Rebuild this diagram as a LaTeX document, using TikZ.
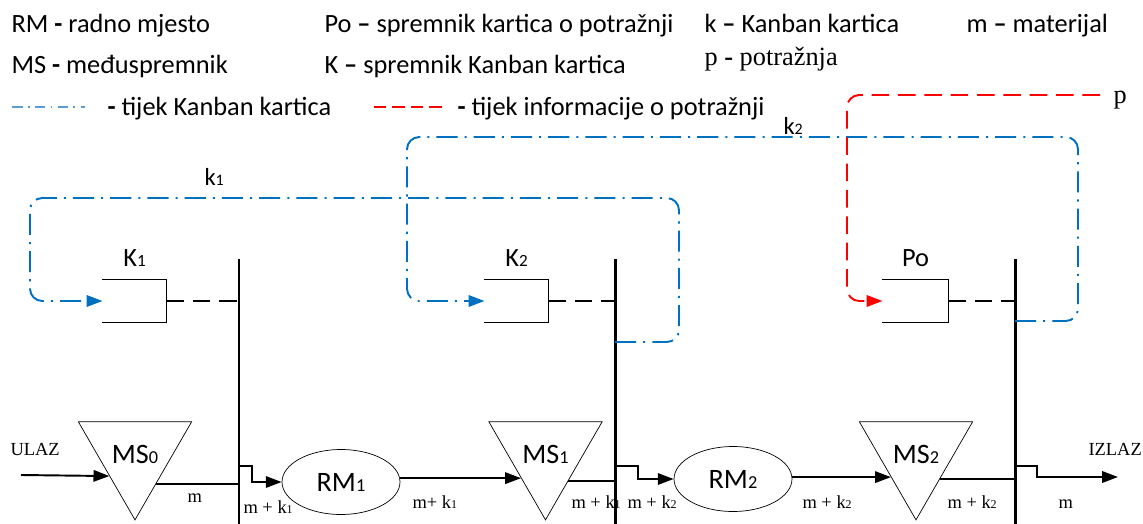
\documentclass[tikz,border=0pt]{standalone}
\usepackage{fontspec}
\setmainfont{Carlito}
\newfontfamily\timesfont{Liberation Serif}
\usepackage{graphicx}
\usepackage{tikz}
\usetikzlibrary{arrows.meta}
\usetikzlibrary{shapes.geometric}
\usetikzlibrary{positioning}
\definecolor{kanbanblue}{RGB}{0,112,192}
\definecolor{legendblue}{RGB}{91,155,213}
\definecolor{demandred}{RGB}{255,0,0}
\newcommand{\idx}[1]{\scalebox{0.65}{#1}}

\begin{document}
\begin{tikzpicture}[x=0.02cm, y=-0.02cm, >={Triangle[length=9pt,width=6.5pt]}, semithick]
            \tikzstyle{every node}=[inner sep=0pt]
            \tikzstyle{legend}=[anchor=base west, font=\fontsize{15}{17}\selectfont]
            \tikzstyle{flowlbl}=[anchor=base west, font=\timesfont\fontsize{10.5}{12}\selectfont]
            \tikzstyle{boxlbl}=[font=\fontsize{15}{17}\selectfont]
            \tikzstyle{buffer}=[draw, thin, regular polygon, regular polygon sides=3, shape border rotate=180, minimum size=2.54cm, font=\fontsize{16}{18}\selectfont]
            \tikzstyle{station}=[draw, thin, ellipse, minimum width=2.36cm, minimum height=1.3cm, font=\fontsize{16}{18}\selectfont]
            \tikzstyle{cardbox}=[minimum width=1.26cm, minimum height=0.84cm]
            \tikzstyle{flow}=[line width=1.1pt]
            \tikzstyle{barrier}=[line width=1.7pt]
            \tikzstyle{linkdash}=[line width=1.1pt, dash pattern=on 10pt off 5pt]
            \tikzstyle{kanban}=[draw=kanbanblue, line width=1.1pt, rounded corners=7pt, dash pattern=on 12pt off 4pt on 1.2pt off 4pt]
            \tikzstyle{demand}=[draw=demandred, line width=1.1pt, rounded corners=7pt, dash pattern=on 10pt off 5pt]

            \useasboundingbox (0,0) rectangle (1143,524);

            \node[legend] (lrm) at (11,32) {RM \textbf{-} radno mjesto};
            \node[legend] (lms) at (11,73) {MS \textbf{-} međuspremnik};
            \node[legend] (lpo) at (324,32) {Po \textbf{--} spremnik kartica o potražnji};
            \node[legend] (lk) at (324,73) {K \textbf{--} spremnik Kanban kartica};
            \node[legend] (lkk) at (704,32) {k \textbf{--} Kanban kartica};
            \node[legend] (lm) at (966,32) {m \textbf{--} materijal};
            \node[anchor=base west, font=\timesfont\fontsize{15}{17}\selectfont] (lp) at (704,65) {p \textbf{-} potražnja};
            \coordinate (lb1) at (12,107);
            \coordinate (lb2) at (85,107);
            \draw[kanban, draw=legendblue, dash pattern=on 6pt off 3pt on 1pt off 3pt] (lb1) -- (lb2);
            \node[legend] (lbt) at (107,115) {\textbf{-} tijek Kanban kartica};
            \coordinate (lr1) at (374,107);
            \coordinate (lr2) at (445,107);
            \draw[demand, dash pattern=on 7pt off 3.5pt] (lr1) -- (lr2);
            \node[legend] (lrt) at (457,115) {\textbf{-} tijek informacije o potražnji};

            \coordinate (b1top) at (239,259);
            \coordinate (b1bot) at (239,524);
            \coordinate (b2top) at (615,259);
            \coordinate (b2bot) at (615,524);
            \coordinate (b3top) at (1015,259);
            \coordinate (b3bot) at (1015,524);

            \node[cardbox] (k1box) at (134.5,301) {};
            \node[cardbox] (k2box) at (516.5,301) {};
            \node[cardbox, minimum width=1.3cm] (pobox) at (915.5,301) {};
            \node[boxlbl, above=7pt of k1box] (k1lbl) {K\idx{1}};
            \node[boxlbl, above=7pt of k2box] (k2lbl) {K\idx{2}};
            \node[boxlbl, above=7pt of pobox] (polbl) {Po};
            \foreach \b in {k1box,k2box,pobox}
                \draw[flow] (\b.north west) -| (\b.south east) -- (\b.south west);
            \draw[linkdash] (k1box.east) -- (k1box.east -| b1top);
            \draw[linkdash] (k2box.east) -- (k2box.east -| b2top);
            \draw[linkdash] (pobox.east) -- (pobox.east -| b3top);

            \node[buffer] (ms0) at (135,454.5) {MS\idx{0}};
            \node[buffer] (ms1) at (545.5,454.5) {MS\idx{1}};
            \node[buffer] (ms2) at (916,454.5) {MS\idx{2}};
            \node[station] (rm1) at (341,482) {RM\idx{1}};
            \node[station] (rm2) at (733,479) {RM\idx{2}};

            \coordinate (ulaz) at (21,475);
            \coordinate (izlaz) at (1118,477);
            \node[flowlbl] (ulazlbl) at (10,455) {ULAZ};
            \node[flowlbl] (izlazlbl) at (1088,455) {IZLAZ};

            \draw[flow,->] (ulaz) -- (ms0.220);
            \draw[flow] (ms0.305) -- (ms0.305 -| b1top);
            \draw[flow,->] (b1top |- 0,466) -- ++(13,0) |- (rm1.west);
            \draw[flow,->] (rm1.east |- ms1.224) -- (ms1.224);
            \draw[flow] (ms1.311) -- (ms1.311 -| b2top);
            \draw[flow,->] (b2top |- 0,466) -- ++(23,0) |- (rm2.west);
            \draw[flow,->] (rm2.east |- ms2.222) -- (ms2.222);
            \draw[flow] (ms2.315) -- (ms2.315 -| b3top);
            \draw[flow,->] (b3top |- 0,466) -- ++(22,0) |- (izlaz);

            \node[flowlbl] (lm0) at (187,502) {m};
            \node[flowlbl] (lmk1a) at (243,513) {m + k\idx{1}};
            \node[flowlbl] (lmk1b) at (412,508) {m+ k\idx{1}};
            \node[flowlbl] (lmk1c) at (571,508) {m + k\idx{1}};
            \node[flowlbl] (lmk2a) at (627,508) {m + k\idx{2}};
            \node[flowlbl] (lmk2b) at (802,508) {m + k\idx{2}};
            \node[flowlbl] (lmk2c) at (947,508) {m + k\idx{2}};
            \node[flowlbl] (lm3) at (1058,508) {m};

            \draw[barrier] (b1top) -- (b1bot);
            \draw[barrier] (b2top) -- (b2bot);
            \draw[barrier] (b3top) -- (b3bot);

            \draw[kanban,->] (b2top |- 0,342) -| (679,198) -| (30,301) -- (k1box.west);
            \draw[kanban,->] (b3top |- 0,321) -| (1078,137) -| (407,301) -- (k2box.west);
            \coordinate (pin) at (1100,95);
            \draw[demand,->] (pin) -| (847,301) -- (pobox.west);
            \node[anchor=base west, font=\timesfont\fontsize{15}{17}\selectfont] (plbl) at (1113,103) {p};
            \node[legend, font=\fontsize{14}{16}\selectfont] (k1flow) at (204,185) {k\idx{1}};
            \node[legend, font=\fontsize{14}{16}\selectfont] (k2flow) at (783,134) {k\idx{2}};
          \end{tikzpicture}
\end{document}
